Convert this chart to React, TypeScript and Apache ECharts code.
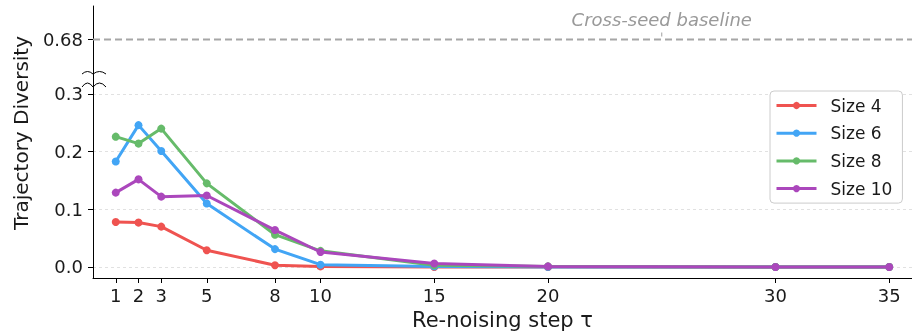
import React, { useEffect, useRef } from "react";
import * as echarts from "echarts";

const TAU = [1, 2, 3, 5, 8, 10, 15, 20, 30, 35];
const SIZE4 = [0.078, 0.077, 0.07, 0.029, 0.003, 0.001, 0, 0, 0, 0];
const SIZE6 = [0.183, 0.246, 0.201, 0.11, 0.031, 0.004, 0.001, 0, 0, 0];
const SIZE8 = [0.226, 0.214, 0.24, 0.145, 0.056, 0.028, 0.003, 0.001, 0, 0];
const SIZE10 = [0.129, 0.152, 0.122, 0.124, 0.064, 0.026, 0.006, 0.001, 0, 0];
const SERIES_NAMES = ["Size 4", "Size 6", "Size 8", "Size 10"];
const SERIES_VALUES = [SIZE4, SIZE6, SIZE8, SIZE10];
const COLORS = ["#EF5350", "#42A5F5", "#66BB6A", "#AB47BC"];
const Y_TICKS = [0, 0.1, 0.2, 0.3];
const BASELINE = 0.68;
const BASELINE_LABEL = "Cross-seed baseline";
const BASELINE_LABEL_X = 25;

const FONT = "DejaVu Sans";

export default function App() {
  const ref = useRef<HTMLDivElement>(null);
  useEffect(() => {
    if (!ref.current) return;
    const chart = echarts.init(ref.current, null, { renderer: "svg" });
    const xMin = 0;
    const xMax = 36;
    const lineSeries = SERIES_NAMES.map((name, i) => ({
      name,
      type: "line",
      xAxisIndex: 0,
      yAxisIndex: 0,
      data: TAU.map((t, j) => [t, SERIES_VALUES[i][j]]),
      symbol: "circle",
      symbolSize: 8,
      color: COLORS[i],
      lineStyle: { width: 3, color: COLORS[i] },
      itemStyle: { color: COLORS[i] },
      z: 3 + i,
    }));
    const option: any = {
      animation: false,
      textStyle: { fontFamily: FONT },
      grid: [
        { left: 93, right: 0, top: 85, bottom: 53, containLabel: false, outerBoundsMode: "none" },
        { left: 93, right: 0, top: 6, height: 67, containLabel: false, outerBoundsMode: "none" },
      ],
      xAxis: [
        {
          type: "value",
          gridIndex: 0,
          min: xMin,
          max: xMax,
          axisLine: { show: true, onZero: false, lineStyle: { color: "#000", width: 1 } },
          axisTick: { show: true, customValues: TAU, length: 5, lineStyle: { color: "#000" } },
          axisLabel: { customValues: TAU, color: "#1a1a1a", fontSize: 18, fontFamily: FONT, margin: 8 },
          splitLine: { show: false },
          name: "Re-noising step τ",
          nameLocation: "middle",
          nameGap: 31,
          nameTextStyle: { fontSize: 21, color: "#1a1a1a", fontFamily: FONT },
        },
        {
          type: "value",
          gridIndex: 1,
          min: xMin,
          max: xMax,
          show: false,
        },
      ],
      yAxis: [
        {
          type: "value",
          gridIndex: 0,
          min: -0.0191,
          max: 0.3156,
          axisLine: { show: true, onZero: false, lineStyle: { color: "#000", width: 1 } },
          axisTick: { show: true, customValues: Y_TICKS, length: 5, lineStyle: { color: "#000" } },
          axisLabel: {
            customValues: Y_TICKS,
            formatter: (v: number) => v.toFixed(1),
            color: "#1a1a1a",
            fontSize: 18,
            fontFamily: FONT,
            margin: 10,
          },
          splitLine: { show: true, lineStyle: { color: "#d9d9d9", width: 0.8, type: [3, 3] } },
        },
        {
          type: "value",
          gridIndex: 1,
          min: BASELINE - 0.06,
          max: BASELINE + 0.06,
          axisLine: { show: true, onZero: false, lineStyle: { color: "#000", width: 1 } },
          axisTick: { show: true, customValues: [BASELINE], length: 5, lineStyle: { color: "#000" } },
          axisLabel: {
            customValues: [BASELINE],
            formatter: (v: number) => v.toFixed(2),
            color: "#1a1a1a",
            fontSize: 18,
            fontFamily: FONT,
            margin: 10,
          },
          splitLine: { show: false },
        },
      ],
      legend: {
        data: SERIES_NAMES,
        orient: "vertical",
        left: 770,
        top: 91,
        padding: [6, 10, 6, 5],
        itemWidth: 40,
        itemHeight: 9,
        itemGap: 10.7,
        lineStyle: { width: 3 },
        backgroundColor: "#fff",
        borderColor: "#cccccc",
        borderWidth: 1,
        borderRadius: 4,
        textStyle: { fontSize: 17, color: "#1a1a1a", fontFamily: FONT, padding: [0, 0, 0, 9], lineHeight: 16 },
      },
      series: [
        ...lineSeries,
        {
          name: "baseline",
          type: "line",
          xAxisIndex: 1,
          yAxisIndex: 1,
          data: [
            [xMin, BASELINE],
            [xMax, BASELINE],
          ],
          symbol: "none",
          lineStyle: { color: "#a6a6a6", width: 2, type: [7, 4] },
          z: 1,
          silent: true,
        },
        {
          name: "baselineLabel",
          type: "scatter",
          xAxisIndex: 1,
          yAxisIndex: 1,
          data: [[BASELINE_LABEL_X, BASELINE]],
          symbol: "rect",
          symbolSize: [1, 4],
          symbolOffset: [0, -5],
          itemStyle: { color: "#888" },
          label: {
            show: true,
            position: "top",
            distance: 4,
            formatter: BASELINE_LABEL,
            fontSize: 18,
            fontStyle: "italic",
            color: "#808080",
            fontFamily: FONT,
          },
          z: 2,
          silent: true,
        },
      ],
      graphic: [
        {
          type: "line",
          shape: { x1: 93.5, y1: 73, x2: 93.5, y2: 85 },
          style: { stroke: "#000", lineWidth: 1 },
          silent: true,
        },
        {
          type: "bezierCurve",
          shape: { x1: 82, y1: 74, x2: 93, y2: 74, cpx1: 87.5, cpy1: 69 },
          style: { stroke: "#000", lineWidth: 1, fill: "none" },
          silent: true,
        },
        {
          type: "bezierCurve",
          shape: { x1: 93, y1: 74, x2: 106, y2: 74, cpx1: 99.5, cpy1: 69 },
          style: { stroke: "#000", lineWidth: 1, fill: "none" },
          silent: true,
        },
        {
          type: "bezierCurve",
          shape: { x1: 82, y1: 87, x2: 93, y2: 87, cpx1: 87.5, cpy1: 79 },
          style: { stroke: "#000", lineWidth: 1, fill: "none" },
          silent: true,
        },
        {
          type: "bezierCurve",
          shape: { x1: 93, y1: 87, x2: 106, y2: 87, cpx1: 99.5, cpy1: 79 },
          style: { stroke: "#000", lineWidth: 1, fill: "none" },
          silent: true,
        },
        {
          type: "text",
          x: 21,
          y: 133,
          rotation: Math.PI / 2,
          style: {
            text: "Trajectory Diversity",
            fontSize: 20,
            fill: "#1a1a1a",
            fontFamily: FONT,
            align: "center",
            verticalAlign: "middle",
          },
          silent: true,
        },
      ],
    };
    chart.setOption(option);
    return () => chart.dispose();
  }, []);
  return (
    <div
      ref={ref}
      style={{ position: "fixed", left: 0, top: 0, width: 912, height: 331 }}
    />
  );
}
